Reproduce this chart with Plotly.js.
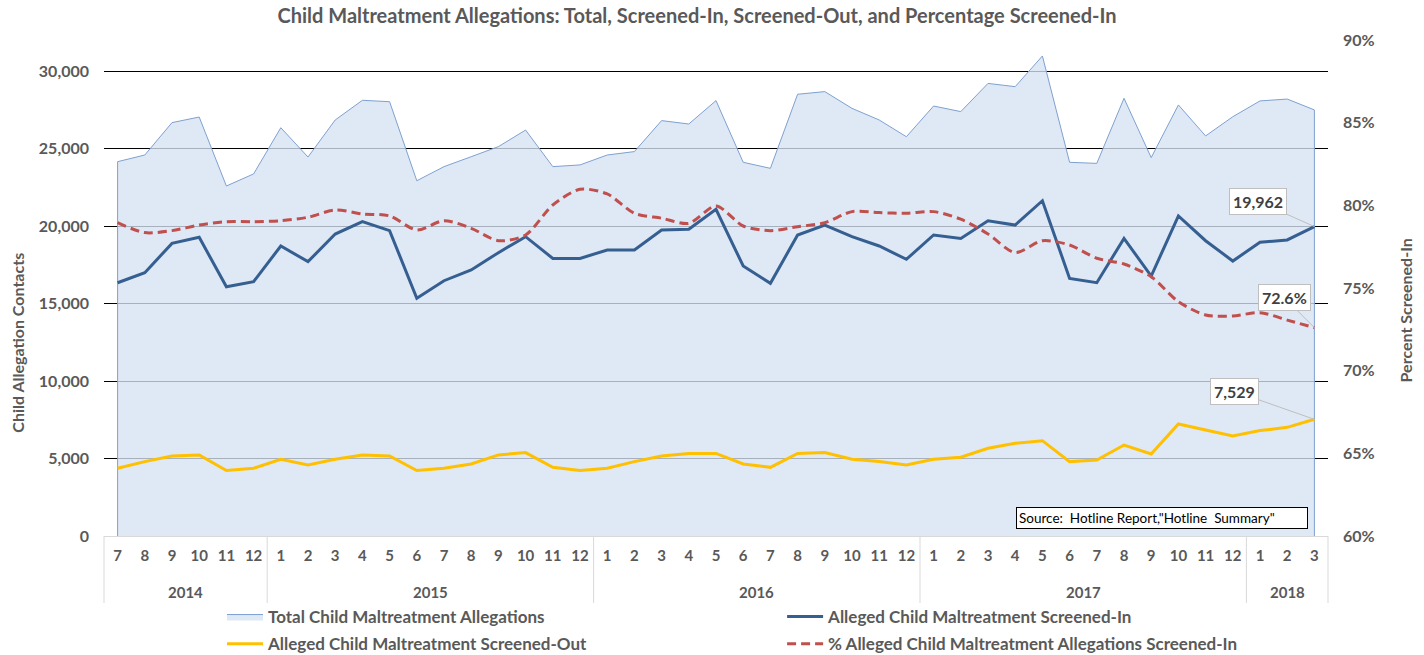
<!DOCTYPE html>
<html><head><meta charset="utf-8">
<script src="https://cdn.plot.ly/plotly-3.0.1.min.js"></script>
<style>html,body{margin:0;padding:0;background:#fff;}#chart{width:1424px;height:655px;}</style>
</head><body><div id="chart"></div>
<script>
const yearLabels = ['2014','2014','2014','2014','2014','2014',
  '2015','2015','2015','2015','2015','2015','2015','2015','2015','2015','2015','2015',
  '2016','2016','2016','2016','2016','2016','2016','2016','2016','2016','2016','2016',
  '2017','2017','2017','2017','2017','2017','2017','2017','2017','2017','2017','2017',
  '2018','2018','2018'];
const monthLabels = ['7','8','9','10','11','12',
  '1','2','3','4','5','6','7','8','9','10','11','12',
  '1','2','3','4','5','6','7','8','9','10','11','12',
  '1','2','3','4','5','6','7','8','9','10','11','12',
  '1','2','3'];
const total = [24150,24580,26670,27030,22580,23360,26340,24450,26840,28110,28020,22920,23830,24470,25120,26190,23830,23940,24580,24800,26800,26580,28090,24110,23720,28500,28670,27590,26840,25760,27740,27380,29200,28990,30970,24110,24040,28240,24410,27810,25810,27050,28070,28190,27490];
const screenedIn = [16340,16990,18880,19270,16080,16410,18710,17700,19480,20280,19700,15340,16470,17160,18280,19310,17910,17910,18450,18450,19740,19790,21080,17420,16300,19420,20060,19310,18710,17850,19420,19200,20340,20060,21630,16620,16340,19200,16770,20650,19050,17740,18950,19100,19962];
const screenedOut = [4370,4800,5160,5230,4220,4370,4950,4580,4950,5230,5160,4220,4370,4650,5230,5380,4430,4220,4370,4800,5160,5330,5330,4650,4430,5330,5380,4950,4800,4580,4950,5080,5660,5980,6150,4800,4900,5870,5290,7230,6840,6450,6800,7010,7529];
const pctIn = [78.95,78.35,78.47,78.81,79.01,79.01,79.07,79.28,79.72,79.48,79.36,78.51,79.07,78.61,77.86,78.21,80.02,80.97,80.69,79.52,79.22,78.91,79.96,78.75,78.47,78.71,78.95,79.62,79.56,79.52,79.62,79.16,78.27,77.14,77.86,77.60,76.80,76.45,75.68,74.17,73.37,73.31,73.51,73.06,72.6];

const n = monthLabels.length;
const last = n - 1;
const idx = monthLabels.map((_, i) => i);
const FONT = 'Lato, "Open Sans", "DejaVu Sans", sans-serif';
const GRAY = '#595959';

// area polygon closed down to zero at both ends
const areaX = [idx[0]].concat(idx, [idx[last]]);
const areaY = [0].concat(total, [0]);

const traces = [
  {type:'scatter', mode:'lines', name:'Total Child Maltreatment Allegations',
   x: areaX, y: areaY, fill:'toself', fillcolor:'rgba(214,225,242,0.78)',
   line:{color:'#7EA1D0', width:1}, legend:'legend', legendgroup:'a'},
  {type:'scatter', mode:'lines', name:'Alleged Child Maltreatment Screened-In',
   x:idx, y:screenedIn, line:{color:'#365F91', width:3}, legend:'legend2', legendgroup:'b'},
  {type:'scatter', mode:'lines', name:'Alleged Child Maltreatment Screened-Out',
   x:idx, y:screenedOut, line:{color:'#FFC000', width:3}, legend:'legend', legendgroup:'c'},
  {type:'scatter', mode:'lines', name:'% Alleged Child Maltreatment Allegations Screened-In',
   x:idx, y:pctIn, yaxis:'y2', legend:'legend2', legendgroup:'d',
   line:{color:'#C0504D', width:3, dash:'9px,5px', shape:'spline', smoothing:0.8}}
];

const tickFont = {family:FONT, size:16, color:GRAY, weight:700};
const labelStyle = {xref:'paper', showarrow:true, arrowhead:0, arrowwidth:1, arrowcolor:'#bfbfbf',
  bgcolor:'#ffffff', bordercolor:'#bfbfbf', borderwidth:1, borderpad:3, standoff:0,
  font:{family:FONT, size:16, color:'#404040', weight:700}};
const lastXFrac = (last + 0.5) / n;

// year groups (outer category labels) and their dividers, from the label arrays
const groups = [];
yearLabels.forEach((y, i) => {
  if (i === 0 || y !== yearLabels[i - 1]) groups.push({year:y, start:i, end:i});
  else groups[groups.length - 1].end = i;
});
const yearAnnots = groups.map(g => ({text:g.year, xref:'paper', yref:'paper',
  x:((g.start + g.end) / 2 + 0.5) / n, y:-0.113, xanchor:'center', yanchor:'middle', showarrow:false,
  font:{family:FONT, size:15, color:GRAY, weight:700}}));
const dividerPos = groups.map(g => g.start / n).concat([(groups[groups.length - 1].end + 1) / n]);
const dividers = dividerPos.map(p => ({type:'line', xref:'paper', yref:'paper', x0:p, x1:p, y0:0, y1:-0.135,
  line:{color:'#d9d9d9', width:1}}));

const legendCommon = {orientation:'v', y:-0.127, yanchor:'top', xanchor:'left', traceorder:'grouped',
  tracegroupgap:2, itemwidth:36, bgcolor:'rgba(0,0,0,0)', font:{family:FONT, size:17, color:GRAY, weight:700}};

const layout = {
  width:1424, height:655,
  margin:{l:104, r:96, t:40, b:119, autoexpand:false},
  paper_bgcolor:'#ffffff', plot_bgcolor:'#ffffff',
  font:{family:FONT, color:GRAY},
  title:{text:'Child Maltreatment Allegations: Total, Screened-In, Screened-Out, and Percentage Screened-In',
    x:0.4895, xanchor:'center', y:0.9756, yanchor:'middle',
    font:{family:FONT, size:20, color:GRAY, weight:700}},
  showlegend:true,
  legend:Object.assign({x:0.0964}, legendCommon),
  legend2:Object.assign({x:0.554}, legendCommon),
  xaxis:{type:'linear', range:[-0.5, n - 0.5], tickvals:idx, ticktext:monthLabels,
    showgrid:false, zeroline:false, showline:true, linecolor:'#d9d9d9', linewidth:1, ticks:'',
    ticklabelstandoff:6, tickfont:{family:FONT, size:15, color:GRAY, weight:700}},
  yaxis:{range:[0,32000], tick0:0, dtick:5000, tickformat:',d', showgrid:true,
    gridcolor:'#000000', gridwidth:1, zeroline:false, showline:false, ticks:'',
    ticklabelstandoff:14, tickfont:tickFont},
  yaxis2:{overlaying:'y', side:'right', range:[60,90], tick0:60, dtick:5, ticksuffix:'%',
    showgrid:false, zeroline:false, showline:false, ticks:'', ticklabelstandoff:14,
    tickfont:tickFont},
  shapes:dividers,
  annotations:[
    {text:'Child Allegation Contacts', xref:'paper', yref:'paper', x:-0.071, y:0.39,
     textangle:-90, showarrow:false, xanchor:'center', yanchor:'middle',
     font:{family:FONT, size:16, color:GRAY, weight:700}},
    {text:'Percent Screened-In', xref:'paper', yref:'paper', x:1.063, y:0.455,
     textangle:-90, showarrow:false, xanchor:'center', yanchor:'middle',
     font:{family:FONT, size:16, color:GRAY, weight:700}},
    Object.assign({text:screenedIn[last].toLocaleString('en-US'), x:lastXFrac, yref:'y', y:screenedIn[last], ax:-56, ay:-25}, labelStyle),
    Object.assign({text:pctIn[last].toFixed(1) + '%', x:lastXFrac, yref:'y2', y:pctIn[last], ax:-30, ay:-30}, labelStyle),
    Object.assign({text:screenedOut[last].toLocaleString('en-US'), x:lastXFrac, yref:'y', y:screenedOut[last], ax:-80, ay:-28}, labelStyle),
    {text:'Source:  Hotline Report,"Hotline  Summary"', xref:'paper', yref:'paper', x:0.8644, y:0.0363,
     xanchor:'center', yanchor:'middle', showarrow:false, width:286, height:16, align:'left',
     bgcolor:'#ffffff', bordercolor:'#000000', borderwidth:1, borderpad:2,
     font:{family:FONT, size:13.5, color:'#000000'}}
  ].concat(yearAnnots)
};

Plotly.newPlot('chart', traces, layout, {displayModeBar:false, staticPlot:true});
</script>
</body></html>
